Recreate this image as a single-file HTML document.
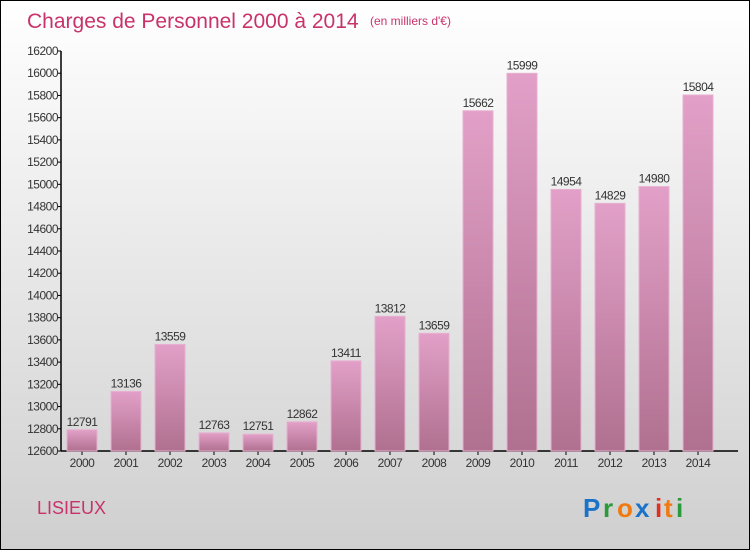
<!DOCTYPE html>
<html><head><meta charset="utf-8"><style>
body{margin:0;}
#c{position:relative;width:748px;height:548px;border:1px solid #000;background:linear-gradient(#ffffff,#cfcfcf);font-family:"Liberation Sans",sans-serif;overflow:hidden;}
</style></head><body>
<div id="c">
<svg id="s" width="748" height="548" style="position:absolute;left:0;top:0">
<defs><linearGradient id="bg" x1="0" y1="0" x2="0" y2="1"><stop offset="0" stop-color="#e2a0c8"/><stop offset="1" stop-color="#b0708f"/></linearGradient></defs>
<text x="26" y="27" font-size="21" fill="#c8336a">Charges de Personnel 2000 à 2014</text>
<text x="369" y="24" font-size="12" fill="#c8336a">(en milliers d'€)</text>
<text x="36" y="513" font-size="18" fill="#c8336a">LISIEUX</text>
<g font-size="26" font-weight="bold">
<text x="582" y="516" fill="#1a73c8">P</text><text x="602" y="516" fill="#2a9a3a">r</text><text x="616" y="516" fill="#f07a10">o</text><text x="634" y="516" fill="#1a73c8">x</text><text x="654" y="516" fill="#e03020">i</text><text x="663" y="516" fill="#f07a10">t</text><text x="675" y="516" fill="#2a9a3a">i</text></g>
<g id="ax"></g><g id="bars"></g>
</svg>
</div>
<script>
const years=["2000","2001","2002","2003","2004","2005","2006","2007","2008","2009","2010","2011","2012","2013","2014"];
const values=[12791,13136,13559,12763,12751,12862,13411,13812,13659,15662,15999,14954,14829,14980,15804];
const ticks=[12600,12800,13000,13200,13400,13600,13800,14000,14200,14400,14600,14800,15000,15200,15400,15600,15800,16000,16200];
const NS="http://www.w3.org/2000/svg";
const yMin=12600,yMax=16200,y0=450,y1=50;
function y(v){return y0-(v-yMin)/(yMax-yMin)*(y0-y1);}
function x(i){return 81+44*i;}
function mk(t,a,p){const e=document.createElementNS(NS,t);for(const k in a)e.setAttribute(k,a[k]);p.appendChild(e);return e;}
const ax=document.getElementById('ax'),bg=document.getElementById('bars');
const yl=mk('line',{x1:60,y1:y1,x2:60,y2:y0,stroke:'#000','stroke-width':1.5},ax);


const xl=mk('line',{x1:60,y1:y0,x2:737,y2:y0,stroke:'#000','stroke-width':1.5},ax);


ticks.forEach(t=>{
 mk('line',{x1:57,y1:y(t),x2:60,y2:y(t),stroke:'#000'},ax);
 const e=mk('text',{x:57,y:y(t)+4,'font-size':12,'text-anchor':'end',fill:'#333','letter-spacing':'-0.5'},ax);
 e.textContent=t;
 
 
});
years.forEach((yr,i)=>{
 const v=values[i],cx=x(i);
 const r=mk('rect',{x:cx-15,y:y(v),width:30,height:y0-y(v),fill:'url(#bg)',stroke:'#e8b0d0','stroke-width':1},bg);
 
 
 const l=mk('text',{x:cx,y:y(v)-4,'font-size':12,'text-anchor':'middle',fill:'#333','letter-spacing':'-0.5'},bg);
 l.textContent=v;
 
 
 mk('line',{x1:cx,y1:y0,x2:cx,y2:y0+4,stroke:'#000'},ax);
 const t=mk('text',{x:cx,y:466,'font-size':12,'text-anchor':'middle',fill:'#333','letter-spacing':'-0.5'},ax);
 t.textContent=yr;
 
 
});
</script>
</body></html>
